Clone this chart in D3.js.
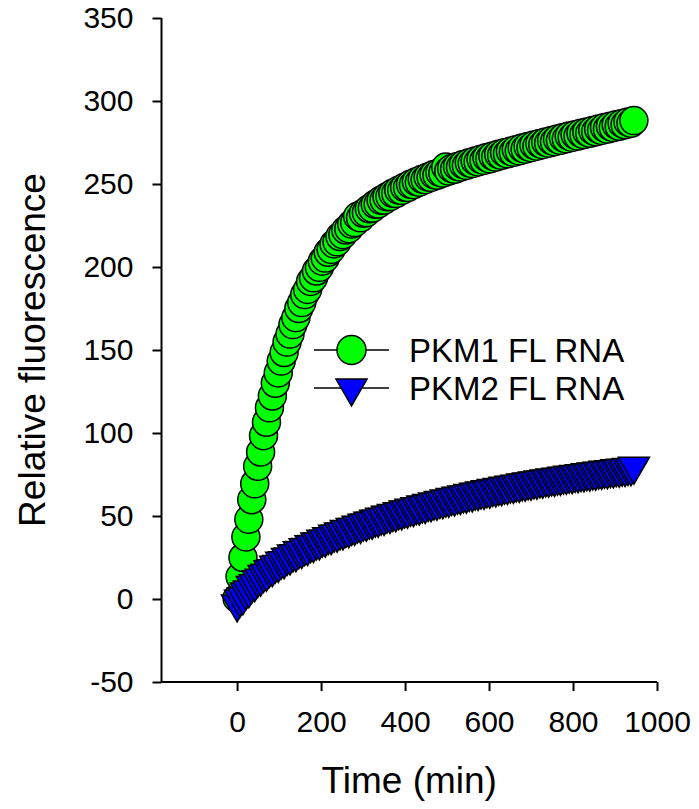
<!DOCTYPE html>
<html>
<head>
<meta charset="utf-8">
<script src="https://cdn.jsdelivr.net/npm/d3@7"></script>
<style>
  html, body { margin: 0; padding: 0; background: #fff; }
  svg { display: block; }
  text { font-family: Arial, "Liberation Sans", sans-serif; fill: #000; }
</style>
</head>
<body>
<svg id="chart" width="699" height="809"></svg>
<script>
// Sampling times (min)
const times = [
  0, 7, 14, 21, 28, 35, 42, 49, 56, 63, 70, 77, 84, 91, 98, 105, 112, 119, 126, 133,
  140, 147, 154, 161, 168, 175, 182, 189, 196, 203, 210, 217, 224, 231, 238, 245, 252, 259, 266, 273,
  280, 287, 294, 301, 308, 315, 322, 329, 336, 343, 350, 357, 364, 371, 378, 385, 392, 399, 406, 413,
  420, 427, 434, 441, 448, 455, 462, 469, 476, 483, 490, 497, 504, 511, 518, 525, 532, 539, 546, 553,
  560, 567, 574, 581, 588, 595, 602, 609, 616, 623, 630, 637, 644, 651, 658, 665, 672, 679, 686, 693,
  700, 707, 714, 721, 728, 735, 742, 749, 756, 763, 770, 777, 784, 791, 798, 805, 812, 819, 826, 833,
  840, 847, 854, 861, 868, 875, 882, 889, 896, 903, 910, 917, 924, 931, 938, 945
];

// PKM1 FL RNA — relative fluorescence
const pkm1 = [
  0.5, 13.5, 25.0, 37.4, 48.0, 59.8, 69.4, 79.9, 88.5, 98.4, 106.5, 115.2, 122.3, 130.0, 136.2, 143.3, 148.5, 154.8, 159.6, 165.3,
  169.5, 175.0, 178.6, 183.4, 186.5, 191.3, 193.5, 197.6, 199.8, 203.5, 205.4, 208.9, 210.6, 213.9, 215.2, 218.4, 219.5, 222.3, 223.1, 225.9,
  226.8, 230.5, 229.6, 232.4, 232.8, 235.1, 235.5, 237.8, 238.0, 240.2, 240.3, 242.3, 242.4, 244.4, 244.3, 246.3, 246.2, 248.0, 247.9, 249.8,
  249.6, 251.4, 251.1, 252.9, 252.6, 254.2, 254.0, 255.7, 255.3, 257.0, 256.6, 260.2, 257.8, 259.4, 258.9, 260.6, 260.2, 261.7, 261.2, 262.8,
  262.3, 263.9, 263.3, 264.9, 264.3, 265.9, 265.2, 266.9, 266.2, 267.9, 267.3, 268.9, 268.2, 269.8, 269.1, 270.8, 270.0, 271.7, 271.0, 272.6,
  271.9, 273.5, 272.8, 274.4, 273.7, 275.3, 274.6, 276.2, 275.5, 277.1, 276.3, 278.0, 277.2, 278.9, 278.1, 279.7, 278.9, 280.6, 279.8, 281.4,
  280.6, 282.3, 281.5, 283.1, 282.3, 284.0, 283.1, 284.8, 284.0, 285.7, 284.8, 286.5, 285.7, 287.4, 286.6, 288.2
];

// PKM2 FL RNA — relative fluorescence
const pkm2 = [
  -3.0, -0.2, 1.3, 4.2, 5.5, 8.1, 9.2, 11.6, 12.5, 14.8, 15.5, 17.7, 18.2, 20.3, 20.8, 22.7, 23.0, 25.0, 25.3, 27.1,
  27.3, 29.0, 29.2, 30.9, 31.0, 32.7, 32.8, 34.4, 34.4, 36.0, 36.0, 37.5, 37.5, 39.0, 39.0, 40.4, 40.4, 41.8, 41.7, 43.1,
  43.1, 44.5, 44.3, 45.7, 45.6, 46.9, 46.8, 48.1, 48.0, 49.3, 49.1, 50.4, 50.3, 51.5, 51.3, 52.6, 52.4, 53.6, 53.4, 54.6,
  54.4, 55.6, 55.4, 56.6, 56.3, 57.5, 57.3, 58.4, 58.2, 59.3, 59.1, 60.2, 60.0, 61.1, 60.8, 61.9, 61.7, 62.7, 62.5, 63.5,
  63.3, 64.3, 64.1, 65.0, 64.8, 65.8, 65.5, 66.5, 66.3, 67.2, 67.0, 67.9, 67.7, 68.6, 68.4, 69.2, 69.0, 69.9, 69.7, 70.5,
  70.3, 71.1, 70.9, 71.7, 71.5, 72.3, 72.1, 72.9, 72.6, 73.4, 73.2, 74.0, 73.8, 74.5, 74.3, 75.0, 74.8, 75.5, 75.3, 76.0,
  75.8, 76.5, 76.3, 77.0, 76.8, 77.5, 77.2, 77.9, 77.7, 78.4, 78.1, 78.8, 78.6, 79.2, 79.0, 80.0
];

const xTicks = [0, 200, 400, 600, 800, 1000];
const yTicks = [-50, 0, 50, 100, 150, 200, 250, 300, 350];
const seriesNames = ["PKM1 FL RNA", "PKM2 FL RNA"];
const xTitle = "Time (min)";
const yTitle = "Relative fluorescence";

const svg = d3.select("#chart");

const x = d3.scaleLinear().domain([-180, 1000]).range([161.5, 657]);
const y = d3.scaleLinear().domain([-50, 350]).range([682, 18]);

const circleR = 14;
const triSize = 420;
const triangle = d3.symbol().type(d3.symbolTriangle).size(triSize);
const plain = d => String(d);

// Axes
const xAxis = d3.axisBottom(x).tickValues(xTicks).tickFormat(plain)
  .tickSize(9).tickPadding(20).tickSizeOuter(0);
const yAxis = d3.axisLeft(y).tickValues(yTicks).tickFormat(plain)
  .tickSize(9).tickPadding(19).tickSizeOuter(0);

const gx = svg.append("g").attr("transform", `translate(0,${y(-50)})`).call(xAxis);
const gy = svg.append("g").attr("transform", `translate(${x(-180)},0)`).call(yAxis);

[gx, gy].forEach(g => {
  g.select(".domain").attr("stroke", "#000").attr("stroke-width", 2);
  g.selectAll(".tick line").attr("stroke", "#000").attr("stroke-width", 2);
  g.selectAll(".tick text")
    .attr("font-family", 'Arial, "Liberation Sans", sans-serif')
    .attr("font-size", 30)
    .attr("fill", "#000");
});
// x-axis line spans the plotting width starting at the y axis
gx.select(".domain").attr("d", `M${x(-180)},0H${x(1000)}`);
gy.select(".domain").attr("d", `M0,${y(-50)}V${y(350)}`);

// Axis titles
svg.append("text")
  .attr("x", (x(-180) + x(1000)) / 2)
  .attr("y", 793)
  .attr("text-anchor", "middle")
  .attr("font-size", 37)
  .text(xTitle);

svg.append("text")
  .attr("transform", `translate(45,${(y(-50) + y(350)) / 2}) rotate(-90)`)
  .attr("text-anchor", "middle")
  .attr("font-size", 37)
  .text(yTitle);

const pts1 = times.map((t, i) => ({ t, v: pkm1[i] }));
const pts2 = times.map((t, i) => ({ t, v: pkm2[i] }));

// PKM1 markers: green circles
svg.append("g").selectAll("circle")
  .data(pts1)
  .join("circle")
  .attr("cx", d => x(d.t))
  .attr("cy", d => y(d.v))
  .attr("r", circleR)
  .attr("fill", "#00ff00")
  .attr("stroke", "#000")
  .attr("stroke-width", 1.5);

// PKM2 markers: blue downward triangles
svg.append("g").selectAll("path")
  .data(pts2)
  .join("path")
  .attr("d", triangle)
  .attr("transform", d => `translate(${x(d.t)},${y(d.v)}) rotate(180)`)
  .attr("fill", "#0000ff")
  .attr("stroke", "#000")
  .attr("stroke-width", 1.5);

// Legend
const legend = svg.append("g");
const legRows = [
  { name: seriesNames[0], yPos: 350, kind: "circle" },
  { name: seriesNames[1], yPos: 388, kind: "triangle" }
];
legRows.forEach(r => {
  legend.append("line")
    .attr("x1", 314).attr("x2", 389)
    .attr("y1", r.yPos).attr("y2", r.yPos)
    .attr("stroke", "#000").attr("stroke-width", 1.5);
  if (r.kind === "circle") {
    legend.append("circle")
      .attr("cx", 351.5).attr("cy", r.yPos).attr("r", circleR + 0.5)
      .attr("fill", "#00ff00").attr("stroke", "#000").attr("stroke-width", 1.5);
  } else {
    legend.append("path")
      .attr("d", triangle)
      .attr("transform", `translate(351.5,${r.yPos}) rotate(180)`)
      .attr("fill", "#0000ff").attr("stroke", "#000").attr("stroke-width", 1.5);
  }
  legend.append("text")
    .attr("x", 409)
    .attr("y", r.yPos)
    .attr("dy", "0.36em")
    .attr("font-size", 33)
    .text(r.name);
});
</script>
</body>
</html>
